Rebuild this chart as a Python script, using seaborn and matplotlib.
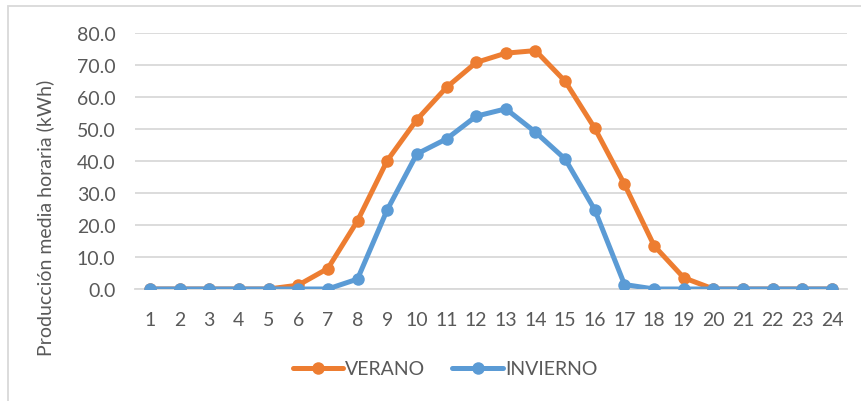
import matplotlib
matplotlib.use("Agg")
import matplotlib.pyplot as plt
from matplotlib.patches import Rectangle
import seaborn as sns
import pandas as pd

# Hourly average production (kWh) for a summer and a winter day
horas = list(range(1, 25))
verano = [0, 0, 0, 0, 0, 1.2, 6.4, 21.3, 40.1, 52.9, 63.0, 70.8, 73.7, 74.5,
          64.9, 50.2, 32.7, 13.5, 3.5, 0, 0, 0, 0, 0]
invierno = [0, 0, 0, 0, 0, 0, 0, 3.1, 24.7, 42.2, 46.9, 54.0, 56.3, 49.0,
            40.6, 24.7, 1.4, 0, 0, 0, 0, 0, 0, 0]
series = ["VERANO", "INVIERNO"]
colores = ["#ED7D31", "#5B9BD5"]
y_ticks = [0, 10, 20, 30, 40, 50, 60, 70, 80]

df = pd.DataFrame({
    "hora": horas * 2,
    "valor": verano + invierno,
    "serie": [series[0]] * len(horas) + [series[1]] * len(horas),
})
df["pos"] = df["hora"] - 1

sns.set_theme(style="white")
plt.rcParams["font.family"] = ["Lato", "DejaVu Sans"]
texto = "#595959"

fig = plt.figure(figsize=(8.61, 4.02), dpi=100)
ax = fig.add_axes([135 / 861, 1 - 290 / 402, (847 - 135) / 861, (290 - 34) / 402])

sns.lineplot(data=df, x="pos", y="valor", hue="serie", hue_order=series,
             palette=colores, marker="o", markersize=9, markeredgewidth=0,
             linewidth=3.6, ax=ax, legend=False, zorder=3)

ax.set_xlim(-0.5, len(horas) - 0.5)
ax.set_ylim(0, 80)
ax.set_xticks(range(len(horas)))
ax.set_xticklabels([str(h) for h in horas])
ax.set_yticks(y_ticks)
ax.set_yticklabels([f"{v:.1f}" for v in y_ticks])
ax.yaxis.grid(True, color="#D9D9D9", linewidth=1.3, zorder=0)
ax.xaxis.grid(False)
for s in ["left", "right", "top"]:
    ax.spines[s].set_visible(False)
ax.spines["bottom"].set_color("#D9D9D9")
ax.spines["bottom"].set_linewidth(1.3)
ax.set_axisbelow(True)
ax.tick_params(axis="both", length=0, labelsize=14, colors=texto)
ax.tick_params(axis="x", pad=16)
ax.tick_params(axis="y", pad=14)
ax.set_xlabel("")
ax.set_ylabel("")

fig.text(45 / 861, 1 - 218 / 402, "Producción media horaria (kWh)",
         rotation=90, ha="center", va="center", fontsize=14, color=texto)

# Legend below the plot
handles = [plt.Line2D([], [], color=c, marker="o", markersize=9,
                      markeredgewidth=0, linewidth=3.6) for c in colores]
leg = fig.legend(handles, series, loc="center", bbox_to_anchor=(445 / 861, 1 - 370 / 402),
                 ncol=2, frameon=False, fontsize=14, handlelength=2.6,
                 handletextpad=0.1, columnspacing=1.4)
for t in leg.get_texts():
    t.set_color(texto)

# Chart area border
fig.patches.append(Rectangle((8 / 861, -0.1), 1.2, 1 - 7 / 402 + 0.1,
                             transform=fig.transFigure, fill=False,
                             edgecolor="#D9D9D9", linewidth=1.3))

fig.savefig("out.png", dpi=100, facecolor="white")
